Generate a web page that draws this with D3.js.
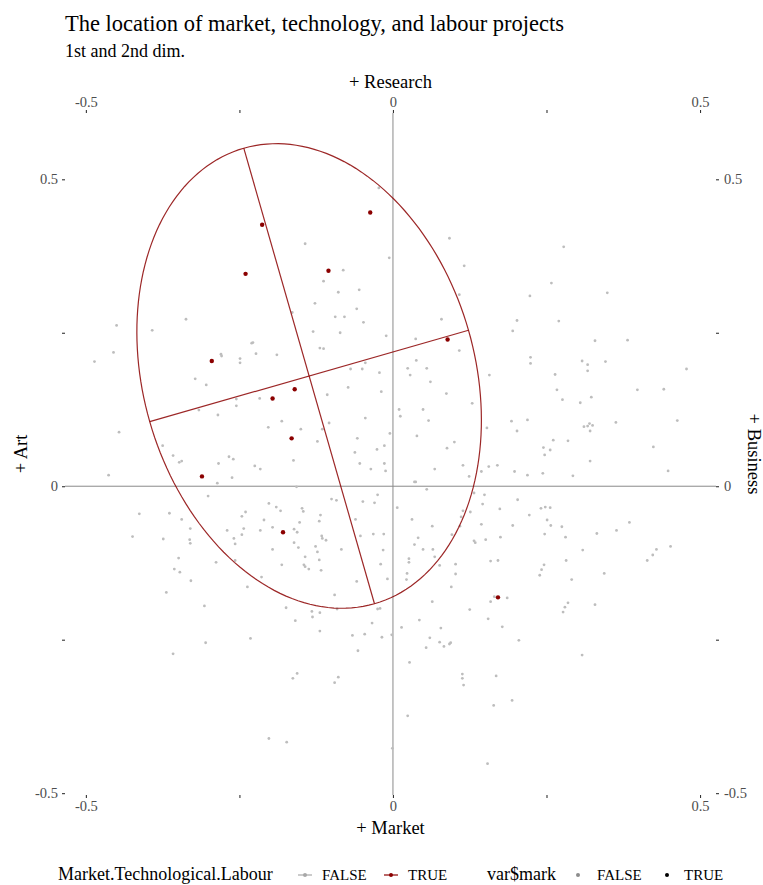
<!DOCTYPE html>
<html>
<head>
<meta charset="utf-8">
<script src="https://cdn.jsdelivr.net/npm/d3@7"></script>
<style>
  body { margin: 0; background: #fff; }
  svg { font-family: "Liberation Serif", "DejaVu Serif", serif; }
</style>
</head>
<body>
<svg id="chart" width="763" height="885"></svg>
<script>
const TITLE = "The location of market, technology, and labour projects";
const SUBTITLE = "1st and 2nd dim.";
const AXIS_TITLES = { top: "+ Research", bottom: "+ Market", left: "+ Art", right: "+ Business" };

const ticks = [-0.5, -0.25, 0, 0.25, 0.5];
const tickLabels = ["-0.5", "", "0", "", "0.5"];

// projects with Market.Technological.Labour == TRUE
const redPoints = [
  [-0.037, 0.446], [-0.213, 0.426], [-0.240, 0.346], [-0.105, 0.351],
  [-0.295, 0.204], [0.089, 0.239], [-0.160, 0.158], [-0.196, 0.143],
  [-0.165, 0.078], [-0.311, 0.016], [-0.179, -0.075], [0.171, -0.181]
];

// all other projects
const greyPoints = [
  [-0.337, 0.272], [-0.023, 0.486], [-0.143, 0.395], [0.092, 0.404], [-0.006, 0.372],
  [0.116, 0.359], [-0.081, 0.352], [-0.113, 0.334], [-0.089, 0.316], [-0.055, 0.320],
  [-0.127, 0.298], [0.108, 0.312], [-0.164, 0.283], [-0.059, 0.289], [-0.094, 0.276],
  [-0.079, 0.276], [-0.048, 0.267], [0.079, 0.272], [0.278, 0.390], [0.258, 0.331],
  [0.223, 0.310], [0.349, 0.315], [0.202, 0.270], [0.270, 0.269], [-0.450, 0.262],
  [-0.392, 0.254], [-0.455, 0.218], [-0.486, 0.203], [-0.230, 0.233], [-0.228, 0.234],
  [-0.280, 0.215], [-0.279, 0.212], [-0.249, 0.208], [-0.249, 0.201], [-0.223, 0.216],
  [-0.189, 0.214], [-0.322, 0.175], [-0.304, 0.165], [-0.255, 0.142], [-0.255, 0.131],
  [-0.217, 0.143], [-0.316, 0.124], [-0.285, 0.116], [-0.181, 0.106], [-0.203, 0.096],
  [-0.446, 0.088], [-0.375, 0.066], [-0.358, 0.050], [-0.348, 0.039], [-0.344, 0.041],
  [-0.267, 0.048], [-0.260, 0.044], [-0.284, 0.037], [-0.225, 0.033], [-0.216, 0.028],
  [-0.463, 0.018], [-0.262, 0.014], [-0.286, 0.005], [-0.301, -0.016], [-0.202, -0.028],
  [-0.190, -0.034], [-0.183, -0.040], [-0.413, -0.045], [-0.364, -0.044], [-0.240, -0.042],
  [-0.246, -0.049], [-0.344, -0.054], [-0.210, -0.055], [-0.330, -0.069], [-0.243, -0.069],
  [-0.196, -0.067], [-0.270, -0.072], [-0.216, -0.072], [-0.246, -0.079], [-0.424, -0.082],
  [-0.374, -0.086], [-0.331, -0.087], [-0.330, -0.093], [-0.259, -0.085], [-0.257, -0.094],
  [-0.196, -0.103], [-0.130, 0.252], [-0.086, 0.250], [-0.011, 0.245], [0.037, 0.240],
  [-0.119, 0.225], [-0.113, 0.224], [0.108, 0.221], [0.038, 0.205], [-0.045, 0.201],
  [-0.069, 0.191], [-0.050, 0.191], [0.024, 0.192], [0.055, 0.192], [-0.022, 0.185],
  [0.028, 0.181], [0.157, 0.181], [0.061, 0.170], [-0.073, 0.161], [-0.019, 0.154],
  [0.087, 0.151], [-0.107, 0.149], [0.129, 0.135], [0.010, 0.125], [0.049, 0.125],
  [0.012, 0.114], [-0.045, 0.111], [0.058, 0.107], [-0.150, 0.093], [-0.115, 0.093],
  [-0.104, 0.103], [0.153, 0.095], [-0.005, 0.086], [0.039, 0.082], [-0.058, 0.078],
  [-0.123, 0.073], [0.100, 0.072], [-0.014, 0.066], [-0.026, 0.060], [0.088, 0.062],
  [-0.062, 0.055], [-0.162, 0.042], [-0.054, 0.037], [-0.014, 0.037], [0.114, 0.034],
  [0.156, 0.032], [0.170, 0.034], [-0.036, 0.028], [-0.012, 0.025], [0.068, 0.028],
  [0.144, 0.024], [0.124, 0.016], [0.035, 0.007], [0.037, 0.007], [-0.157, -0.001],
  [0.055, -0.005], [-0.025, -0.014], [0.132, -0.011], [0.149, -0.014], [-0.100, -0.021],
  [-0.092, -0.023], [-0.049, -0.025], [-0.030, -0.027], [0.146, -0.029], [-0.148, -0.036],
  [-0.146, -0.041], [0.007, -0.035], [0.114, -0.040], [0.126, -0.042], [0.174, -0.037],
  [-0.118, -0.047], [0.111, -0.050], [0.031, -0.054], [-0.061, -0.054], [-0.152, -0.059],
  [-0.120, -0.057], [0.144, -0.062], [0.064, -0.065], [0.109, -0.065], [-0.161, -0.070],
  [-0.156, -0.075], [-0.116, -0.081], [-0.115, -0.085], [-0.109, -0.088], [-0.053, -0.081],
  [-0.032, -0.078], [-0.015, -0.078], [0.041, -0.084], [0.096, -0.079], [0.132, -0.089],
  [0.134, -0.092], [0.151, -0.087], [0.175, -0.083], [-0.161, -0.092], [-0.126, -0.098],
  [-0.154, -0.100], [0.035, -0.095], [-0.123, -0.107], [-0.084, -0.103], [-0.016, -0.104],
  [0.049, -0.103], [0.065, -0.103], [0.195, 0.253], [0.329, 0.237], [0.382, 0.238],
  [0.224, 0.210], [0.224, 0.200], [0.308, 0.204], [0.317, 0.198], [0.317, 0.188],
  [0.346, 0.203], [0.478, 0.191], [0.264, 0.182], [0.267, 0.157], [0.398, 0.157],
  [0.441, 0.158], [0.276, 0.141], [0.323, 0.145], [0.305, 0.136], [0.193, 0.106],
  [0.219, 0.108], [0.202, 0.090], [0.311, 0.097], [0.317, 0.098], [0.320, 0.102],
  [0.325, 0.099], [0.321, 0.090], [0.363, 0.104], [0.463, 0.107], [0.261, 0.075],
  [0.285, 0.074], [0.245, 0.063], [0.247, 0.051], [0.256, 0.059], [0.424, 0.064],
  [0.321, 0.041], [0.198, 0.024], [0.219, 0.018], [0.244, 0.021], [0.293, 0.017],
  [0.448, 0.025], [0.203, -0.022], [0.241, -0.036], [0.248, -0.034], [0.256, -0.035],
  [0.222, -0.047], [0.251, -0.055], [0.257, -0.064], [0.195, -0.064], [0.275, -0.066],
  [0.385, -0.059], [0.364, -0.072], [0.247, -0.078], [0.281, -0.083], [0.332, -0.077],
  [0.452, -0.098], [0.429, -0.103], [0.309, -0.104], [-0.349, -0.117], [-0.288, -0.124],
  [-0.257, -0.121], [-0.181, -0.128], [-0.356, -0.135], [-0.347, -0.140], [-0.329, -0.154],
  [-0.214, -0.148], [-0.237, -0.164], [-0.369, -0.173], [-0.307, -0.195], [-0.232, -0.248],
  [-0.305, -0.255], [-0.358, -0.273], [-0.202, -0.411], [-0.173, -0.417], [-0.143, -0.115],
  [-0.120, -0.120], [-0.145, -0.128], [-0.143, -0.131], [-0.137, -0.135], [-0.117, -0.137],
  [-0.020, -0.127], [0.026, -0.118], [0.026, -0.124], [0.068, -0.115], [0.076, -0.129],
  [0.102, -0.127], [0.159, -0.122], [0.171, -0.121], [0.023, -0.142], [0.102, -0.143],
  [-0.059, -0.155], [-0.009, -0.151], [0.022, -0.152], [0.095, -0.164], [-0.095, -0.177],
  [-0.174, -0.198], [-0.132, -0.204], [-0.131, -0.213], [-0.119, -0.206], [-0.091, -0.200],
  [-0.025, -0.200], [-0.021, -0.199], [-0.159, -0.219], [0.064, -0.188], [0.159, -0.188],
  [0.165, -0.180], [0.125, -0.201], [0.155, -0.216], [0.043, -0.218], [-0.034, -0.223],
  [0.014, -0.230], [0.078, -0.231], [0.178, -0.229], [-0.119, -0.236], [-0.066, -0.243],
  [-0.046, -0.241], [-0.018, -0.246], [-0.002, -0.242], [0.060, -0.247], [0.076, -0.254],
  [0.083, -0.261], [0.092, -0.257], [0.094, -0.255], [0.054, -0.263], [-0.057, -0.268],
  [0.027, -0.287], [-0.156, -0.305], [-0.163, -0.313], [-0.089, -0.311], [-0.095, -0.320],
  [0.113, -0.306], [0.113, -0.313], [0.115, -0.324], [0.168, -0.309], [0.024, -0.374],
  [0.164, -0.357], [-0.001, -0.427], [0.154, -0.452], [0.423, -0.112], [0.414, -0.121],
  [0.282, -0.121], [0.246, -0.128], [0.242, -0.136], [0.239, -0.145], [0.344, -0.142],
  [0.291, -0.152], [0.186, -0.182], [0.285, -0.190], [0.280, -0.197], [0.277, -0.205],
  [0.329, -0.193], [0.205, -0.251], [0.308, -0.275], [0.194, -0.349]
];

// confidence ellipse of the TRUE group: centre, semi-axes, angle of major axis
const ellipseCenter = [-0.1365, 0.1796];
const ellipseAxes = [0.386, 0.270];
const ellipseAngle = 106;

const legend1 = { title: "Market.Technological.Labour", keys: ["FALSE", "TRUE"] };
const legend2 = { title: "var$mark", keys: ["FALSE", "TRUE"] };

const svg = d3.select("#chart");
const panel = { left: 65, right: 716, top: 113, bottom: 795 };

const x = d3.scaleLinear().domain([-0.534, 0.526]).range([panel.left, panel.right]);
const y = d3.scaleLinear().domain([-0.503, 0.608]).range([panel.bottom, panel.top]);

const RED = "#8b0000";
const GREY = "#bdbdbd";
const TICK_COLOR = "#4d4d4d";

// title
svg.append("text").attr("x", 65).attr("y", 31).attr("font-size", 22.5).attr("fill", "#000").text(TITLE);
svg.append("text").attr("x", 65).attr("y", 57).attr("font-size", 18).attr("fill", "#000").text(SUBTITLE);

// reference lines
svg.append("line")
  .attr("x1", x(0)).attr("x2", x(0)).attr("y1", panel.top).attr("y2", panel.bottom)
  .attr("stroke", "#8a8a8a").attr("stroke-width", 1);
svg.append("line")
  .attr("x1", panel.left).attr("x2", panel.right).attr("y1", y(0)).attr("y2", y(0))
  .attr("stroke", "#8a8a8a").attr("stroke-width", 1);

// axes
const fmt = (d) => tickLabels[ticks.indexOf(d)];
const styleAxis = (g) => {
  g.select(".domain").remove();
  g.selectAll(".tick line").attr("stroke", "#333").attr("stroke-width", 1.1);
  g.selectAll(".tick text").attr("fill", TICK_COLOR).attr("font-size", 14.5)
    .attr("font-family", "Liberation Serif");
};
svg.append("g").attr("transform", `translate(0,${panel.top})`)
  .call(d3.axisTop(x).tickValues(ticks).tickFormat(fmt).tickSize(3).tickPadding(3)).call(styleAxis);
svg.append("g").attr("transform", `translate(0,${panel.bottom})`)
  .call(d3.axisBottom(x).tickValues(ticks).tickFormat(fmt).tickSize(3).tickPadding(3)).call(styleAxis);
svg.append("g").attr("transform", `translate(${panel.left},0)`)
  .call(d3.axisLeft(y).tickValues(ticks).tickFormat(fmt).tickSize(3).tickPadding(4)).call(styleAxis);
svg.append("g").attr("transform", `translate(${panel.right},0)`)
  .call(d3.axisRight(y).tickValues(ticks).tickFormat(fmt).tickSize(3).tickPadding(5)).call(styleAxis);

// axis titles
const midX = (panel.left + panel.right) / 2;
const midY = (panel.top + panel.bottom) / 2;
svg.append("text").attr("x", midX).attr("y", 88).attr("text-anchor", "middle").attr("font-size", 18.5).text(AXIS_TITLES.top);
svg.append("text").attr("x", midX).attr("y", 834).attr("text-anchor", "middle").attr("font-size", 18.5).text(AXIS_TITLES.bottom);
svg.append("text").attr("transform", `translate(27,${midY}) rotate(-90)`).attr("text-anchor", "middle").attr("font-size", 18.5).text(AXIS_TITLES.left);
svg.append("text").attr("transform", `translate(748,${midY}) rotate(90)`).attr("text-anchor", "middle").attr("font-size", 18.5).text(AXIS_TITLES.right);

// grey points
svg.append("g").selectAll("circle").data(greyPoints).join("circle")
  .attr("cx", (d) => x(d[0])).attr("cy", (d) => y(d[1])).attr("r", 1.4).attr("fill", GREY);

// ellipse
const th = (ellipseAngle * Math.PI) / 180;
const [a, b] = ellipseAxes;
const [cx, cy] = ellipseCenter;
const ellPt = (t) => [
  cx + a * Math.cos(t) * Math.cos(th) - b * Math.sin(t) * Math.sin(th),
  cy + a * Math.cos(t) * Math.sin(th) + b * Math.sin(t) * Math.cos(th)
];
const line = d3.line().x((d) => x(d[0])).y((d) => y(d[1]));
svg.append("path")
  .attr("d", line(d3.range(0, 361, 2).map((deg) => ellPt((deg * Math.PI) / 180))))
  .attr("fill", "none").attr("stroke", RED).attr("stroke-width", 1.2).attr("stroke-opacity", 0.85);
[[0, Math.PI], [Math.PI / 2, -Math.PI / 2]].forEach(([t1, t2]) => {
  svg.append("path").attr("d", line([ellPt(t1), ellPt(t2)]))
    .attr("fill", "none").attr("stroke", RED).attr("stroke-width", 1.2).attr("stroke-opacity", 0.85);
});

// red points
svg.append("g").selectAll("circle").data(redPoints).join("circle")
  .attr("cx", (d) => x(d[0])).attr("cy", (d) => y(d[1])).attr("r", 2.2).attr("fill", RED);

// legend
const ly = 875;
svg.append("text").attr("x", 58).attr("y", ly + 5).attr("font-size", 18).text(legend1.title);
const l1 = [{ x: 305, c: "#a8a8a8", tx: 322 }, { x: 391, c: RED, tx: 408 }];
l1.forEach((k, i) => {
  svg.append("line").attr("x1", k.x - 7).attr("x2", k.x + 7).attr("y1", ly).attr("y2", ly)
    .attr("stroke", k.c).attr("stroke-width", 1.2);
  svg.append("circle").attr("cx", k.x).attr("cy", ly).attr("r", 2).attr("fill", k.c);
  svg.append("text").attr("x", k.tx).attr("y", ly + 5).attr("font-size", 15).text(legend1.keys[i]);
});
svg.append("text").attr("x", 487).attr("y", ly + 5).attr("font-size", 18).text(legend2.title);
const l2 = [{ x: 578, c: "#8c8c8c", tx: 597 }, { x: 667, c: "#000", tx: 684 }];
l2.forEach((k, i) => {
  svg.append("circle").attr("cx", k.x).attr("cy", ly).attr("r", 2).attr("fill", k.c);
  svg.append("text").attr("x", k.tx).attr("y", ly + 5).attr("font-size", 15).text(legend2.keys[i]);
});
</script>
</body>
</html>
